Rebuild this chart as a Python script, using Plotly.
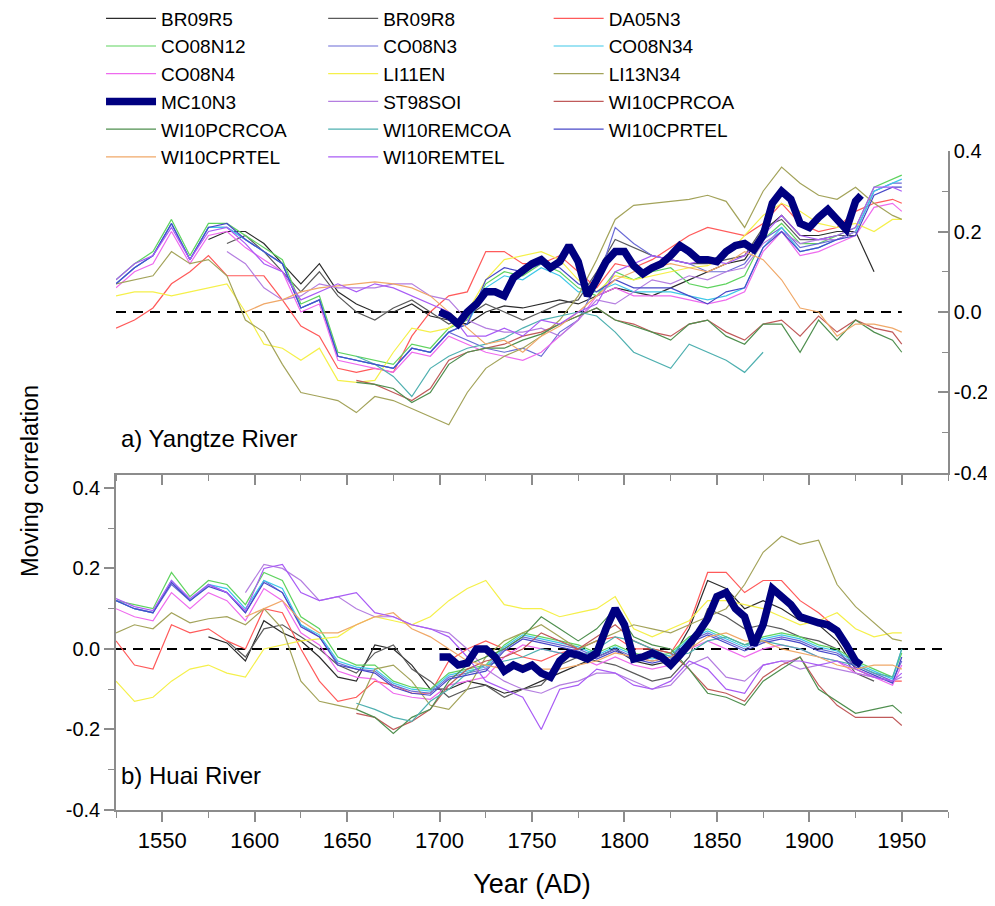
import plotly.graph_objects as go

# x positions of the sampled values (every 10 years) and of the MC10N3 record (every 5 years)
YEARS = list(range(1525, 1950, 10)) + [1950]
MC_YEARS = list(range(1700, 1930, 5)) + [1928]
N = None

# ---------- a) Yangtze River ----------
BR09R5_A = [N, N, N, N, N, 0.18, 0.20, 0.20, 0.17, 0.12,
            0.07, 0.12, 0.05, 0.02, 0.00, 0.00, 0.02, -0.01, -0.02, -0.03,
            0.00, 0.015, 0.01, 0.02, 0.03, 0.02, 0.04, 0.06, 0.05, 0.04,
            0.06, 0.08, 0.10, 0.12, 0.13, 0.20, 0.24, 0.19, 0.19, 0.20,
            0.20, 0.10, N, N]
BR09R8_A = [N, N, N, N, N, N, 0.17, 0.19, 0.15, 0.10,
            0.05, 0.10, 0.04, 0.00, -0.02, 0.01, 0.03, 0.00, -0.03, -0.01,
            0.02, 0.00, -0.02, 0.00, 0.02, 0.03, 0.10, 0.18, 0.16, 0.14,
            0.13, 0.12, 0.12, 0.13, 0.14, 0.21, 0.23, 0.18, 0.18, 0.19,
            0.19, N, N, N]
DA05N3_A = [-0.04, -0.02, 0.01, 0.07, 0.10, 0.14, 0.09, 0.09, 0.09, 0.03,
            -0.035, -0.06, -0.14, -0.15, -0.14, -0.15, -0.06, 0.00, 0.04, 0.05,
            0.15, 0.15, 0.12, 0.12, 0.14, 0.10, 0.06, 0.12, 0.11, 0.13,
            0.16, 0.19, 0.21, 0.20, 0.19, 0.22, 0.27, 0.22, 0.20, 0.21,
            0.25, 0.27, 0.28, 0.27]
CO08N12_A = [0.08, 0.12, 0.15, 0.23, 0.14, 0.22, 0.22, 0.19, 0.16, 0.13,
             0.02, 0.04, -0.10, -0.11, -0.12, -0.13, -0.08, -0.09, -0.04, -0.02,
             0.07, 0.10, 0.09, 0.12, 0.10, 0.06, 0.04, 0.10, 0.08, 0.10,
             0.11, 0.07, 0.06, 0.07, 0.09, 0.18, 0.22, 0.17, 0.17, 0.19,
             0.21, 0.31, 0.33, 0.34]
CO08N3_A = [0.07, 0.11, 0.14, 0.22, 0.13, 0.21, 0.21, 0.18, 0.15, 0.12,
            0.01, 0.03, -0.11, -0.12, -0.13, -0.14, -0.09, -0.10, -0.05, -0.07,
            -0.09, -0.10, -0.09, -0.11, -0.05, -0.02, 0.07, 0.21, 0.17, 0.14,
            0.13, 0.12, 0.10, 0.10, 0.12, 0.18, 0.21, 0.16, 0.17, 0.18,
            0.20, 0.30, 0.32, 0.32]
CO08N34_A = [0.07, 0.11, 0.14, 0.22, 0.13, 0.21, 0.21, 0.18, 0.15, 0.12,
             0.01, 0.03, -0.11, -0.12, -0.13, -0.14, -0.09, -0.10, -0.05, -0.03,
             0.06, 0.09, 0.08, 0.11, 0.09, 0.05, 0.05, 0.07, 0.05, 0.05,
             0.05, 0.04, 0.03, 0.04, 0.06, 0.16, 0.21, 0.15, 0.16, 0.18,
             0.20, 0.30, 0.32, 0.33]
CO08N4_A = [0.06, 0.10, 0.12, 0.20, 0.12, 0.19, 0.20, 0.16, 0.13, 0.10,
            0.00, 0.02, -0.12, -0.13, -0.14, -0.15, -0.10, -0.11, -0.06, -0.08,
            -0.10, -0.11, -0.12, -0.10, -0.06, -0.02, 0.04, 0.06, 0.04, 0.04,
            0.04, 0.03, 0.02, 0.03, 0.05, 0.15, 0.20, 0.14, 0.15, 0.17,
            0.19, 0.26, 0.27, 0.25]
LI11EN_A = [0.04, 0.05, 0.05, 0.04, 0.05, 0.06, 0.07, 0.00, -0.08, -0.09,
            -0.12, -0.09, -0.17, -0.175, -0.17, -0.10, -0.04, -0.05, -0.04, 0.00,
            0.08, 0.13, 0.14, 0.15, 0.13, 0.08, 0.05, 0.09, 0.08, 0.09,
            0.10, 0.11, 0.115, 0.14, 0.19, 0.24, 0.27, 0.25, 0.22, 0.21,
            0.22, 0.20, 0.23, 0.23]
LI13N34_A = [0.07, 0.08, 0.09, 0.15, 0.12, 0.13, 0.09, -0.02, -0.05, -0.13,
             -0.20, -0.21, -0.22, -0.25, -0.21, -0.22, -0.24, -0.26, -0.28, -0.20,
             -0.14, -0.11, -0.09, -0.06, -0.02, 0.04, 0.13, 0.23, 0.265, 0.27,
             0.275, 0.28, 0.29, 0.275, 0.21, 0.30, 0.36, 0.32, 0.29, 0.28,
             0.31, 0.27, 0.24, 0.23]
ST98SOI_A = [N, N, N, N, N, N, 0.15, 0.12, 0.06, 0.03,
             0.04, 0.07, 0.06, 0.06, 0.06, 0.07, 0.07, 0.04, 0.03, -0.02,
             -0.04, -0.05, -0.05, -0.04, -0.06, -0.02, 0.03, 0.02, 0.05, 0.08,
             0.07, 0.09, 0.08, 0.10, 0.11, 0.17, 0.20, 0.17, 0.18, 0.18,
             0.20, N, N, N]
WI10CPRCOA_A = [N, N, N, N, N, N, N, N, N, N,
                N, N, N, -0.17, -0.18, -0.20, -0.22, -0.19, -0.12, -0.10,
                -0.09, -0.08, -0.06, -0.05, -0.03, -0.01, 0.01, -0.02, -0.03, -0.05,
                -0.06, -0.03, -0.02, -0.05, -0.07, -0.03, -0.02, -0.06, -0.01, -0.05,
                -0.02, -0.04, -0.05, -0.08]
WI10PCRCOA_A = [N, N, N, N, N, N, N, N, N, N,
                N, N, N, -0.175, -0.18, -0.19, -0.225, -0.20, -0.13, -0.10,
                -0.09, -0.09, -0.07, -0.055, -0.03, -0.01, 0.01, -0.02, -0.035, -0.05,
                -0.07, -0.03, -0.02, -0.06, -0.08, -0.03, -0.03, -0.10, -0.02, -0.07,
                -0.02, -0.05, -0.07, -0.10]
WI10REMCOA_A = [N, N, N, N, N, N, N, N, N, N,
                N, N, N, -0.11, -0.13, -0.16, -0.21, -0.14, -0.11, -0.09,
                -0.08, -0.065, -0.04, -0.02, -0.01, 0.00, -0.01, -0.05, -0.10, -0.12,
                -0.14, -0.08, -0.10, -0.12, -0.15, -0.10, N, N, N, N,
                N, N, N, N]
WI10CPRTEL_A = [0.07, 0.11, 0.14, 0.22, 0.13, 0.21, 0.22, 0.18, 0.15, 0.12,
                0.01, 0.03, -0.11, -0.12, -0.13, -0.14, -0.09, -0.10, -0.05, -0.03,
                0.08, 0.11, 0.10, 0.12, 0.11, 0.07, 0.05, 0.08, 0.06, 0.06,
                0.06, 0.04, 0.02, 0.05, 0.06, 0.16, 0.20, 0.15, 0.16, 0.18,
                0.19, 0.29, 0.31, 0.31]
WI10CPRTEL2_A = [N, N, N, N, N, N, N, 0.00, 0.02, 0.03,
                 0.05, 0.06, 0.065, 0.07, 0.075, 0.07, 0.06, 0.04, 0.00, -0.04,
                 -0.08, -0.07, -0.10, -0.06, -0.035, 0.00, 0.04, 0.08, 0.10, 0.11,
                 0.12, 0.11, 0.10, 0.12, 0.15, 0.13, 0.08, 0.01, 0.00, -0.06,
                 -0.03, -0.03, -0.04, -0.05]
WI10REMTEL_A = [0.08, 0.12, 0.14, 0.21, 0.13, 0.20, 0.21, 0.17, 0.12, 0.10,
                0.03, 0.05, 0.07, 0.05, 0.07, 0.06, 0.04, 0.02, 0.00, -0.06,
                -0.06, -0.04, -0.06, -0.02, -0.03, 0.00, 0.02, 0.10, 0.12, 0.14,
                0.13, 0.12, 0.13, 0.12, 0.14, 0.19, 0.24, 0.19, 0.18, 0.19,
                0.21, 0.31, 0.31, 0.30]
MC10N3_A = [0.00, -0.01, -0.03, 0.00, 0.02, 0.05, 0.05, 0.04, 0.085, 0.105,
            0.12, 0.13, 0.11, 0.125, 0.165, 0.125, 0.04, 0.08, 0.125, 0.15,
            0.15, 0.115, 0.095, 0.11, 0.12, 0.14, 0.165, 0.15, 0.13, 0.13,
            0.125, 0.15, 0.165, 0.17, 0.155, 0.19, 0.27, 0.30, 0.28, 0.22,
            0.21, 0.235, 0.255, 0.23, 0.205, 0.275, 0.29]

# ---------- b) Huai River ----------
BR09R5_B = [N, N, N, N, N, 0.03, 0.015, -0.03, 0.07, 0.04,
            0.02, -0.02, -0.07, -0.08, 0.01, 0.00, -0.04, -0.10, -0.10, -0.08,
            -0.09, -0.11, -0.10, -0.08, -0.06, -0.04, -0.02, 0.00, -0.03, -0.04,
            -0.03, 0.05, 0.17, 0.15, 0.10, 0.12, 0.10, 0.07, 0.06, 0.02,
            -0.05, N, N, N]
BR09R8_B = [N, N, N, N, N, N, 0.02, -0.02, 0.05, 0.06,
            0.03, 0.00, -0.04, -0.06, -0.01, 0.01, -0.05, -0.08, -0.12, -0.10,
            -0.09, -0.12, -0.10, -0.09, -0.04, -0.02, -0.03, -0.04, -0.06, -0.08,
            -0.07, -0.02, 0.10, 0.08, 0.05, 0.06, 0.05, 0.03, 0.02, 0.00,
            -0.06, -0.08, N, N]
DA05N3_B = [0.02, -0.04, -0.05, 0.06, 0.04, 0.05, 0.02, 0.00, 0.10, 0.09,
            0.00, -0.08, -0.13, -0.12, -0.08, -0.09, -0.11, -0.11, -0.03, 0.00,
            0.02, 0.00, -0.02, -0.03, -0.01, 0.00, 0.02, 0.03, 0.00, 0.00,
            -0.01, 0.06, 0.19, 0.19, 0.14, 0.17, 0.17, 0.12, 0.09, 0.05,
            -0.05, -0.07, -0.08, -0.08]
CO08N12_B = [0.12, 0.11, 0.10, 0.19, 0.13, 0.17, 0.16, 0.11, 0.19, 0.17,
             0.08, 0.05, -0.02, -0.04, -0.04, -0.08, -0.095, -0.10, -0.06, -0.05,
             -0.04, 0.01, 0.04, 0.03, 0.02, 0.01, -0.01, 0.01, -0.01, -0.02,
             -0.01, 0.03, 0.05, 0.03, 0.01, 0.03, 0.04, 0.03, 0.01, 0.00,
             -0.03, -0.05, -0.07, -0.01]
CO08N3_B = [0.12, 0.10, 0.09, 0.16, 0.12, 0.16, 0.14, 0.09, 0.17, 0.14,
            0.06, 0.03, -0.035, -0.05, -0.055, -0.09, -0.105, -0.11, -0.07, -0.06,
            -0.05, 0.00, 0.03, 0.02, 0.01, 0.00, -0.02, 0.00, -0.02, -0.03,
            -0.02, 0.02, 0.04, 0.02, 0.00, 0.02, 0.03, 0.02, 0.00, -0.01,
            -0.04, -0.06, -0.08, -0.03]
CO08N34_B = [0.12, 0.10, 0.09, 0.17, 0.12, 0.16, 0.15, 0.10, 0.17, 0.15,
             0.06, 0.035, -0.03, -0.045, -0.05, -0.085, -0.10, -0.105, -0.065, -0.055,
             -0.045, 0.005, 0.035, 0.025, 0.015, 0.005, -0.015, 0.005, -0.015, -0.025,
             -0.015, 0.025, 0.045, 0.025, 0.005, 0.025, 0.035, 0.025, 0.005, -0.005,
             -0.035, -0.055, -0.075, 0.00]
CO08N4_B = [0.10, 0.08, 0.07, 0.14, 0.10, 0.14, 0.12, 0.07, 0.15, 0.12,
            0.04, 0.01, -0.055, -0.07, -0.075, -0.11, -0.12, -0.125, -0.09, -0.08,
            -0.07, -0.02, 0.01, 0.00, -0.01, -0.02, -0.04, -0.02, -0.04, -0.05,
            -0.04, 0.00, 0.02, 0.00, -0.02, 0.00, 0.01, 0.00, -0.02, -0.03,
            -0.06, -0.07, -0.09, -0.04]
LI11EN_B = [-0.08, -0.13, -0.12, -0.08, -0.05, -0.04, -0.06, -0.07, 0.00, 0.01,
            0.02, 0.025, 0.03, 0.06, 0.08, 0.07, 0.06, 0.08, 0.12, 0.15,
            0.17, 0.11, 0.10, 0.10, 0.08, 0.09, 0.10, 0.13, 0.05, 0.03,
            0.05, 0.07, 0.12, 0.12, 0.11, 0.10, 0.08, 0.06, 0.07, 0.09,
            0.05, 0.03, 0.04, 0.04]
LI13N34_B = [0.04, 0.06, 0.05, 0.09, 0.065, 0.075, 0.08, 0.06, 0.10, 0.05,
             -0.08, -0.13, -0.14, -0.15, -0.05, -0.04, -0.08, -0.14, -0.15, -0.10,
             -0.02, 0.02, 0.04, 0.06, 0.03, 0.00, 0.02, 0.04, 0.06, 0.05,
             0.04, 0.06, 0.08, 0.10, 0.16, 0.24, 0.28, 0.26, 0.27, 0.16,
             0.105, 0.065, 0.025, 0.02]
ST98SOI_B = [N, N, N, N, N, N, N, 0.14, 0.21, 0.20,
             0.17, 0.12, 0.13, 0.10, 0.08, 0.08, 0.06, 0.05, 0.04, 0.00,
             -0.05, -0.08, -0.10, -0.11, -0.09, -0.08, -0.06, -0.06, -0.08, -0.10,
             -0.09, -0.04, -0.02, -0.07, -0.08, -0.04, -0.03, -0.05, -0.04, -0.05,
             -0.06, -0.07, -0.08, -0.07]
WI10CPRCOA_B = [N, N, N, N, N, N, N, N, N, N,
                N, N, N, -0.16, -0.17, -0.20, -0.18, -0.15, -0.09, -0.05,
                -0.03, -0.02, 0.00, 0.04, 0.02, 0.00, 0.03, 0.06, 0.02, 0.00,
                -0.01, -0.05, -0.10, -0.11, -0.13, -0.07, -0.04, -0.02, -0.09, -0.14,
                -0.17, -0.17, -0.17, -0.19]
WI10PCRCOA_B = [N, N, N, N, N, N, N, N, N, N,
                N, N, N, -0.15, -0.17, -0.21, -0.17, -0.15, -0.08, -0.04,
                -0.02, 0.00, 0.03, 0.08, 0.05, 0.02, 0.05, 0.10, 0.03, 0.01,
                0.00, -0.05, -0.11, -0.12, -0.14, -0.08, -0.05, -0.02, -0.10, -0.13,
                -0.16, -0.15, -0.14, -0.16]
WI10REMCOA_B = [N, N, N, N, N, N, N, N, N, N,
                N, N, N, -0.135, -0.15, -0.17, -0.18, -0.13, -0.10, -0.06,
                -0.04, -0.03, -0.02, 0.00, -0.01, -0.02, 0.00, 0.03, 0.02, 0.00,
                -0.02, -0.01, 0.02, 0.03, 0.01, 0.02, 0.01, 0.00, -0.02, -0.03,
                -0.04, -0.06, -0.07, 0.00]
WI10CPRTEL_B = [0.12, 0.10, 0.09, 0.165, 0.12, 0.155, 0.14, 0.09, 0.165, 0.14,
                0.055, 0.03, -0.04, -0.05, -0.06, -0.095, -0.11, -0.115, -0.075, -0.065,
                -0.055, -0.005, 0.025, 0.015, 0.005, -0.005, -0.025, -0.005, -0.025, -0.035,
                -0.025, 0.015, 0.035, 0.015, -0.005, 0.015, 0.025, 0.015, -0.005, -0.015,
                -0.045, -0.065, -0.085, -0.02]
WI10CPRTEL2_B = [N, N, N, N, N, N, N, 0.08, 0.10, 0.12,
                 0.07, 0.04, 0.04, 0.06, 0.08, 0.09, 0.05, 0.03, 0.00, -0.03,
                 -0.04, -0.05, -0.04, -0.05, -0.05, -0.04, -0.03, -0.01, -0.02, -0.03,
                 -0.02, 0.00, 0.03, 0.04, 0.02, 0.02, 0.00, -0.01, -0.02, -0.04,
                 -0.05, -0.04, -0.04, -0.05]
WI10REMTEL_B = [0.125, 0.105, 0.095, 0.17, 0.125, 0.16, 0.14, 0.095, 0.20, 0.21,
                0.14, 0.12, 0.13, 0.14, 0.09, 0.08, 0.06, 0.05, 0.03, -0.02,
                -0.08, -0.10, -0.12, -0.20, -0.10, -0.09, -0.05, -0.06, -0.09, -0.10,
                -0.08, -0.03, -0.05, -0.10, -0.11, -0.04, -0.03, -0.03, -0.04, -0.03,
                -0.05, -0.07, -0.08, -0.06]
MC10N3_B = [-0.02, -0.02, -0.04, -0.035, 0.00, 0.00, -0.02, -0.055, -0.04, -0.05,
            -0.04, -0.06, -0.07, -0.03, -0.01, -0.015, -0.025, -0.01, 0.05, 0.10,
            0.06, -0.025, -0.02, -0.01, -0.02, -0.04, -0.015, 0.01, 0.04, 0.075,
            0.13, 0.14, 0.10, 0.08, 0.01, 0.06, 0.15, 0.13, 0.11, 0.08,
            0.07, 0.065, 0.06, 0.045, 0.01, -0.03, -0.04]

ZERO_A_X = [1525, 1950]
ZERO_B_X = [1525, 1975]
ZERO_Y = [0, 0]

X_TICKS = [1550, 1600, 1650, 1700, 1750, 1800, 1850, 1900, 1950]
X_MINOR = [1525, 1575, 1625, 1675, 1725, 1775, 1825, 1875, 1925, 1975]
Y_TICKS = [-0.4, -0.2, 0.0, 0.2, 0.4]
Y_LABELS = ["-0.4", "-0.2", "0.0", "0.2", "0.4"]
Y_MINOR = [-0.3, -0.1, 0.1, 0.3]

# name shown, x, top values, bottom values, colour, width, legend column, row
SERIES = [
    ("BR09R5", YEARS, BR09R5_A, BR09R5_B, "#2b2b2b", 1.2, "legend", 1),
    ("BR09R8", YEARS, BR09R8_A, BR09R8_B, "#5a5a5a", 1.2, "legend2", 1),
    ("DA05N3", YEARS, DA05N3_A, DA05N3_B, "#ff5a5a", 1.2, "legend3", 1),
    ("CO08N12", YEARS, CO08N12_A, CO08N12_B, "#5fd35f", 1.2, "legend", 2),
    ("CO08N3", YEARS, CO08N3_A, CO08N3_B, "#6b6bd6", 1.2, "legend2", 2),
    ("CO08N34", YEARS, CO08N34_A, CO08N34_B, "#3fc8e8", 1.2, "legend3", 2),
    ("CO08N4", YEARS, CO08N4_A, CO08N4_B, "#ee6aee", 1.2, "legend", 3),
    ("LI11EN", YEARS, LI11EN_A, LI11EN_B, "#f5f04a", 1.2, "legend2", 3),
    ("LI13N34", YEARS, LI13N34_A, LI13N34_B, "#a3a35a", 1.2, "legend3", 3),
    ("ST98SOI", YEARS, ST98SOI_A, ST98SOI_B, "#b47ee0", 1.2, "legend2", 4),
    ("WI10CPRCOA", YEARS, WI10CPRCOA_A, WI10CPRCOA_B, "#c05a5a", 1.2, "legend3", 4),
    ("WI10PCRCOA", YEARS, WI10PCRCOA_A, WI10PCRCOA_B, "#4f8f4f", 1.2, "legend", 5),
    ("WI10REMCOA", YEARS, WI10REMCOA_A, WI10REMCOA_B, "#4fb0b0", 1.2, "legend2", 5),
    ("WI10CPRTEL", YEARS, WI10CPRTEL_A, WI10CPRTEL_B, "#4848c8", 1.2, "legend3", 5),
    ("WI10CPRTEL", YEARS, WI10CPRTEL2_A, WI10CPRTEL2_B, "#f0a868", 1.2, "legend", 6),
    ("WI10REMTEL", YEARS, WI10REMTEL_A, WI10REMTEL_B, "#a95cf5", 1.2, "legend2", 6),
    ("MC10N3", MC_YEARS, MC10N3_A, MC10N3_B, "#000080", 7.5, "legend", 4),
]

fig = go.Figure()

for xs, ax, ay in [(ZERO_A_X, "x", "y"), (ZERO_B_X, "x2", "y2")]:
    fig.add_trace(go.Scatter(
        x=xs, y=ZERO_Y, mode="lines", xaxis=ax, yaxis=ay, showlegend=False,
        line=dict(color="black", width=2, dash="10px,7px"), hoverinfo="skip"
    ))

for name, xs, top, bottom, color, width, legend, rank in SERIES:
    fig.add_trace(go.Scatter(
        x=xs, y=top, name=name, mode="lines", xaxis="x", yaxis="y",
        line=dict(color=color, width=width), legend=legend, legendrank=rank,
        connectgaps=False
    ))
    fig.add_trace(go.Scatter(
        x=xs, y=bottom, name=name, mode="lines", xaxis="x2", yaxis="y2",
        line=dict(color=color, width=width), showlegend=False, connectgaps=False
    ))

AXIS_COLOR = "#8c8c8c"
X_TICK_FONT = dict(family="Liberation Sans, Arial", size=22, color="black")
Y_TICK_FONT = dict(family="Liberation Sans, Arial", size=20, color="black")
LEGEND_FONT = dict(family="Liberation Sans, Arial", size=19, color="black")

x_common = dict(
    range=[1525, 1975], showgrid=False, zeroline=False, showline=True,
    linecolor=AXIS_COLOR, linewidth=1.5, ticks="outside", ticklen=10,
    tickwidth=1.5, tickcolor=AXIS_COLOR, tickmode="array", tickvals=X_TICKS,
    minor=dict(tickmode="array", tickvals=X_MINOR, ticks="outside", ticklen=6,
               tickwidth=1.2, tickcolor=AXIS_COLOR),
    tickfont=X_TICK_FONT,
)
y_common = dict(
    showgrid=False, zeroline=False, showline=True, linecolor=AXIS_COLOR,
    linewidth=1.5, ticklen=10, tickwidth=1.5, tickcolor=AXIS_COLOR,
    tickmode="array", tickvals=Y_TICKS, ticktext=Y_LABELS, tickfont=Y_TICK_FONT,
)

split = 0.5114

legend_common = dict(orientation="v", xanchor="left", yanchor="top", y=1.230,
                     font=LEGEND_FONT, bgcolor="rgba(0,0,0,0)", tracegroupgap=0,
                     itemwidth=50)

fig.update_layout(
    width=995, height=906,
    margin=dict(l=108, r=55, t=143, b=104, autoexpand=False),
    plot_bgcolor="white", paper_bgcolor="white",
    xaxis=dict(x_common, domain=[0, 1], anchor="y", showticklabels=False),
    yaxis=dict(y_common, domain=[split, 1], anchor="x", side="right",
               range=[-0.4, 0.4], ticks="inside",
               minor=dict(tickmode="array", tickvals=Y_MINOR, ticks="inside",
                          ticklen=6, tickwidth=1.2, tickcolor=AXIS_COLOR)),
    xaxis2=dict(x_common, domain=[0, 1], anchor="y2",
                title=dict(text="Year (AD)", standoff=22,
                           font=dict(family="Liberation Sans, Arial", size=27, color="black"))),
    yaxis2=dict(y_common, domain=[0, split], anchor="x2", range=[-0.4, 0.437],
                ticks="outside",
                minor=dict(tickmode="array", tickvals=Y_MINOR, ticks="outside",
                           ticklen=6, tickwidth=1.2, tickcolor=AXIS_COLOR)),
    legend=dict(legend_common, x=-0.018),
    legend2=dict(legend_common, x=0.249),
    legend3=dict(legend_common, x=0.520),
    annotations=[
        dict(text="a) Yangtze River", x=0.004, y=0.564, xref="paper", yref="paper",
             xanchor="left", yanchor="middle", showarrow=False,
             font=dict(family="Liberation Sans, Arial", size=24, color="black")),
        dict(text="b) Huai River", x=0.004, y=0.052, xref="paper", yref="paper",
             xanchor="left", yanchor="middle", showarrow=False,
             font=dict(family="Liberation Sans, Arial", size=24, color="black")),
        dict(text="Moving correlation", x=-0.1036, y=0.499, xref="paper", yref="paper",
             xanchor="center", yanchor="middle", textangle=-90, showarrow=False,
             font=dict(family="Liberation Sans, Arial", size=23.5, color="black")),
    ],
)

fig.write_html("out.html")
